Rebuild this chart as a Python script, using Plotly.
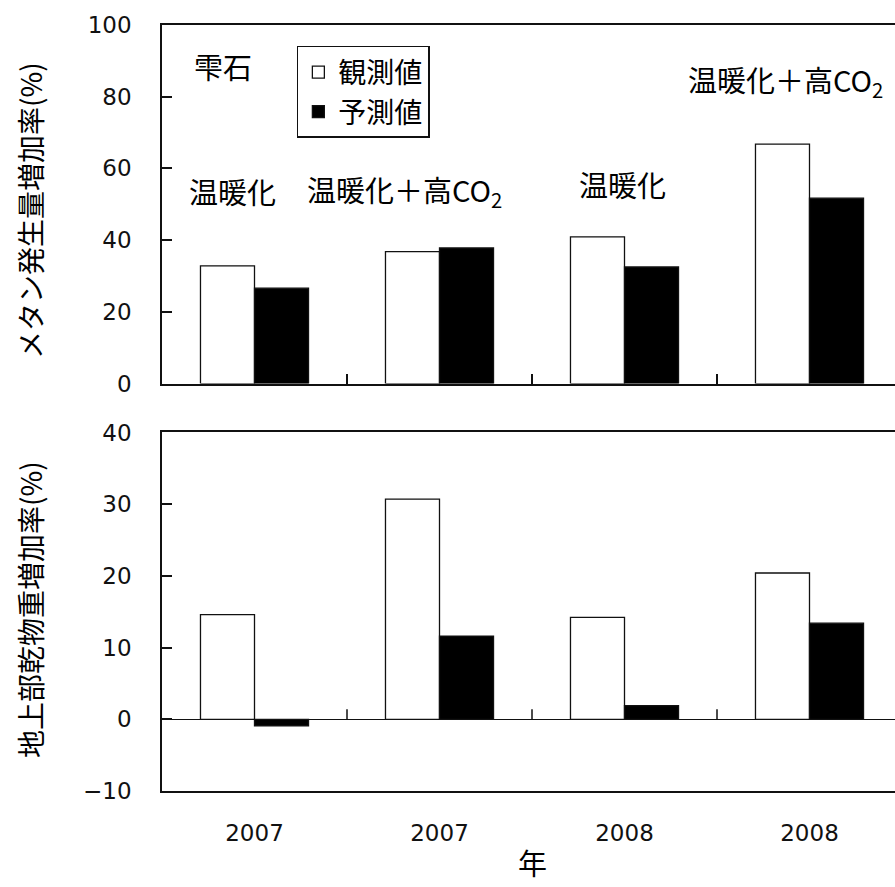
import plotly.graph_objects as go
from plotly.subplots import make_subplots

# Data: methane emission increase and above-ground dry matter increase (%)
years = ["2007", "2007", "2008", "2008"]
treatments = ["温暖化", "温暖化＋高CO<sub>2</sub>", "温暖化", "温暖化＋高CO<sub>2</sub>"]
series_names = ["観測値", "予測値"]
methane_observed = [32.8, 36.8, 40.9, 66.8]
methane_predicted = [26.6, 37.8, 32.5, 51.7]
biomass_observed = [14.6, 30.7, 14.2, 20.4]
biomass_predicted = [-0.9, 11.6, 1.9, 13.4]
site_label = "雫石"
y_titles = ["メタン発生量増加率(%)", "地上部乾物重増加率(%)"]
x_title = "年"

FONT = "Noto Sans CJK JP"
NUM_FONT = "DejaVu Sans"
W, H = 895, 887
ML, MR, MT, MB = 162, 0, 25, 96
CAT_PX = 185  # pixel width of one category slot

x = list(range(len(years)))
plot_w = W - ML - MR
plot_h = H - MT - MB
x_range = [-0.5, -0.5 + plot_w / CAT_PX]
boundaries = [i + 0.5 for i in range(len(years) - 1)]

fig = make_subplots(rows=2, cols=1, vertical_spacing=0.0639)

styles = [dict(color="white", line=dict(color="#111", width=1.3)),
          dict(color="black", line=dict(color="#111", width=1.3))]

for row, (obs, pred) in enumerate([(methane_observed, methane_predicted),
                                    (biomass_observed, biomass_predicted)], start=1):
    for name, vals, st in zip(series_names, [obs, pred], styles):
        fig.add_trace(go.Bar(x=x, y=vals, name=name, marker=st,
                             showlegend=(row == 1)), row=row, col=1)

fig.update_layout(
    width=W, height=H,
    margin=dict(l=ML, r=MR, t=MT, b=MB),
    paper_bgcolor="white", plot_bgcolor="white",
    barmode="group", bargap=0.416, bargroupgap=0,
    font=dict(family=FONT, color="black", size=24),
    legend=dict(x=0.184, y=0.9726, xanchor="left", yanchor="top",
                bordercolor="#111", borderwidth=1.5, bgcolor="white",
                font=dict(size=28, family=FONT), tracegroupgap=0,
                itemwidth=30),
)

axis_common = dict(showline=True, linecolor="#111", linewidth=1.5,
                   showgrid=False)
num_font = dict(size=23, family=NUM_FONT, color="#111")

# top panel
fig.update_xaxes(row=1, col=1, range=x_range, mirror=True, ticks="",
                 showticklabels=False, zeroline=False,
                 tickvals=x,
                 minor=dict(tickmode="array", tickvals=boundaries,
                            ticks="inside", ticklen=10, tickwidth=1.5,
                            tickcolor="#111"),
                 **axis_common)
fig.update_yaxes(row=1, col=1, range=[0, 100], dtick=20, ticks="inside",
                 ticklen=10, tickwidth=1.5, tickcolor="#111", mirror=False,
                 zeroline=False, ticklabelstandoff=24,
                 tickfont=num_font, **axis_common)

# bottom panel
fig.update_xaxes(row=2, col=1, range=x_range, mirror=True, ticks="",
                 tickmode="array", tickvals=x, ticktext=years,
                 showticklabels=True, zeroline=False, ticklabelstandoff=21,
                 tickfont=num_font, **axis_common)
fig.update_yaxes(row=2, col=1, range=[-10, 40], dtick=10, ticks="inside",
                 ticklen=10, tickwidth=1.5, tickcolor="#111", mirror=False,
                 zeroline=True, zerolinecolor="#111", zerolinewidth=1.3,
                 ticklabelstandoff=24, tickfont=num_font, **axis_common)

# category boundary ticks on the zero line of the bottom panel
for b in boundaries:
    fig.add_shape(type="line", xref="x2", yref="y2", x0=b, x1=b,
                  ysizemode="pixel", yanchor=0, y0=0, y1=10,
                  line=dict(color="#111", width=1.5))

# treatment labels above the bar groups
label_pos = [(-0.12, 53.6), (0.81, 53.6), (1.99, 55.6), (2.87, 84.4)]
for txt, (lx, ly) in zip(treatments, label_pos):
    fig.add_annotation(x=lx, y=ly, xref="x", yref="y", text=txt,
                       xanchor="center", yanchor="middle",
                       showarrow=False, font=dict(size=29, family=FONT))

fig.add_annotation(x=-0.17, y=88.5, xref="x", yref="y", text=site_label,
                   xanchor="center", yanchor="middle",
                   showarrow=False, font=dict(size=29, family=FONT))

# axis titles
title_x = (30 - ML) / plot_w
for txt, py in zip(y_titles, [211, 610]):
    fig.add_annotation(x=title_x, y=(H - MB - py) / plot_h,
                       xref="paper", yref="paper", text=txt, textangle=-90,
                       xanchor="center", yanchor="middle", showarrow=False,
                       font=dict(size=28, family=FONT))
fig.add_annotation(x=0.505, y=(H - MB - 862) / plot_h, xref="paper",
                   yref="paper", text=x_title, showarrow=False,
                   xanchor="center", yanchor="middle",
                   font=dict(size=29, family=FONT))

fig.write_html("out.html")
